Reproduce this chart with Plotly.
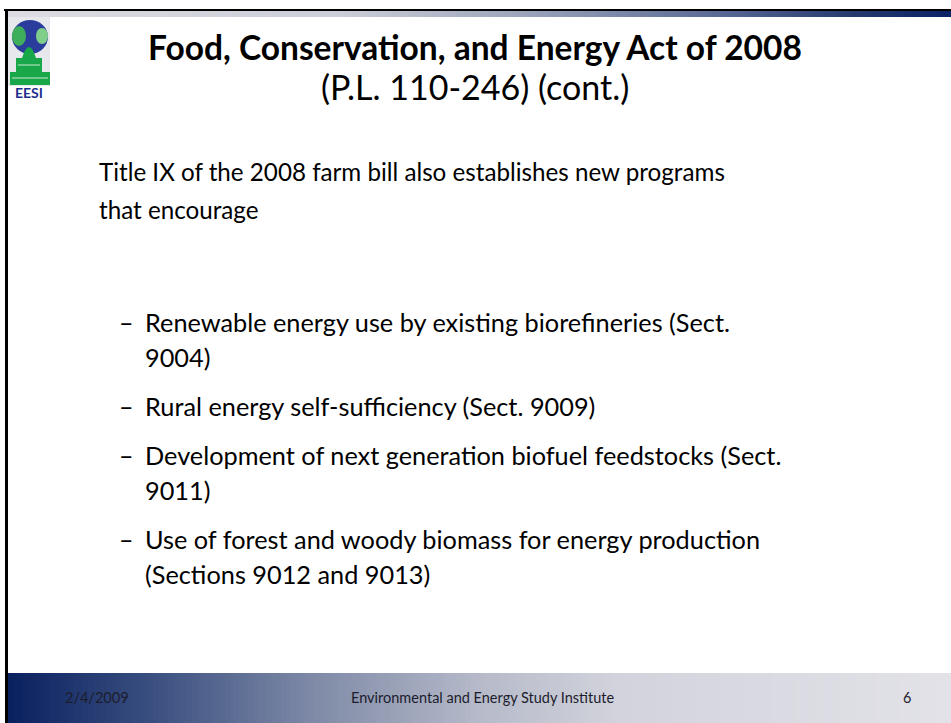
import numpy as np
import plotly.graph_objects as go

W, H = 951, 723
FONT = "Lato"

# slide text
title_bold = "Food, Conservation, and Energy Act of 2008"
title_sub = "(P.L. 110-246) (cont.)"
intro_lines = ["Title IX of the 2008 farm bill also establishes new programs",
               "that encourage"]
bullets = [
    ["Renewable energy use by existing biorefineries (Sect.", "9004)"],
    ["Rural energy self-sufficiency (Sect. 9009)"],
    ["Development of next generation biofuel feedstocks (Sect.", "9011)"],
    ["Use of forest and woody biomass for energy production", "(Sections 9012 and 9013)"],
]
bullet_y = [322, 406, 455, 539]
footer_date = "2/4/2009"
footer_org = "Environmental and Energy Study Institute"
footer_page = "6"

fig = go.Figure()


def gradient_bar(x0, x1, y0, y1, scale, n=200):
    edges = np.linspace(x0, x1, n + 1)
    z = [list(np.linspace(0, 1, n))]
    fig.add_trace(go.Heatmap(x=edges, y=[y0, y1], z=z, colorscale=scale,
                             showscale=False, hoverinfo="skip", zmin=0, zmax=1))


# top bar: gray -> navy
gradient_bar(8, W, 11, 17, [[0, "#dcdce2"], [0.35, "#cbcdd7"], [0.55, "#9ba3bb"],
                             [0.75, "#5a6b96"], [0.9, "#25396e"], [1, "#0a2266"]])
# footer: navy -> gray
gradient_bar(8, W, 673, H, [[0, "#0a2160"], [0.15, "#3a4f80"], [0.32, "#7d89a6"],
                             [0.5, "#b6bac9"], [0.65, "#d2d3dc"], [1, "#e2e2e8"]])

shapes = [
    dict(type="rect", x0=4, x1=W, y0=9, y1=11, fillcolor="black", line_width=0),
    dict(type="rect", x0=5, x1=8, y0=9, y1=H, fillcolor="black", line_width=0),
    # logo
    dict(type="rect", x0=8, x1=50, y0=17, y1=86, fillcolor="#e6e8ec", line_width=0),
    dict(type="circle", x0=12, x1=48, y0=20, y1=54, fillcolor="#2b3d9c", line_width=0),
    dict(type="circle", x0=12, x1=26, y0=26, y1=46, fillcolor="#3fae5a", line_width=0),
    dict(type="circle", x0=36, x1=48, y0=28, y1=44, fillcolor="#7fcf8a", line_width=0),
    dict(type="path", path="M 22 58 Q 29 36 36 58 Z", fillcolor="#18a84a", line_width=0),
    dict(type="rect", x0=16, x1=42, y0=58, y1=72, fillcolor="#18a84a", line_width=0),
    dict(type="rect", x0=10, x1=50, y0=72, y1=85, fillcolor="#18a84a", line_width=0),
    dict(type="line", x0=12, x1=48, y0=78, y1=78, line=dict(color="#c9e8cf", width=1)),
    dict(type="line", x0=18, x1=40, y0=65, y1=65, line=dict(color="#c9e8cf", width=1)),
]

ann = []


def text(x, y, s, size, anchor="left", bold=False, color="black"):
    ann.append(dict(x=x, y=y, text=f"<b>{s}</b>" if bold else s, showarrow=False,
                    xanchor=anchor, yanchor="middle",
                    font=dict(family=FONT, size=size, color=color)))


text(29, 92, "<b>EESI</b>", 14, anchor="center", color="#1c2f8c")
text(475, 47, title_bold, 33.5, anchor="center", bold=True)
text(475, 86, title_sub, 34, anchor="center")
for i, line in enumerate(intro_lines):
    text(97, 171 + i * 38, line, 24.2)
for y, lines in zip(bullet_y, bullets):
    text(117, y, "–", 25)
    for j, line in enumerate(lines):
        text(143, y + j * 35, line, 25.3)

text(63, 697, footer_date, 14.5, color="#1c1c2c")
text(482, 697, footer_org, 14.5, anchor="center", color="#1c1c2c")
text(907, 697, footer_page, 14.5, anchor="center", color="#1c1c2c")

fig.update_layout(
    width=W, height=H, margin=dict(l=0, r=0, t=0, b=0),
    paper_bgcolor="white", plot_bgcolor="white",
    xaxis=dict(range=[0, W], visible=False, fixedrange=True),
    yaxis=dict(range=[H, 0], visible=False, fixedrange=True),
    shapes=shapes, annotations=ann, showlegend=False,
)

fig.write_html("out.html", config={"displayModeBar": False},
               post_script="document.body.style.margin='0';")
